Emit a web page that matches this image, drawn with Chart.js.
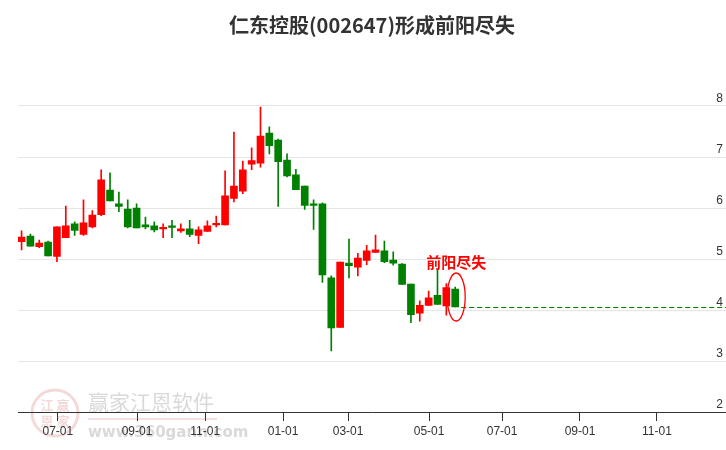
<!DOCTYPE html>
<html>
<head>
<meta charset="utf-8">
<script src="https://cdn.jsdelivr.net/npm/chart.js@4.4.0/dist/chart.umd.min.js"></script>
<style>
html, body { margin: 0; padding: 0; background: #fff; }
#wrap { width: 726px; height: 450px; }
</style>
</head>
<body>
<div id="wrap"><canvas id="chart1" width="726" height="450"></canvas></div>
<script>
// Weekly candles (week start dates)
const weeks = [
    '2023-05-29', '2023-06-05', '2023-06-12', '2023-06-19', '2023-06-26', '2023-07-03', '2023-07-10', '2023-07-17',
    '2023-07-24', '2023-07-31', '2023-08-07', '2023-08-14', '2023-08-21', '2023-08-28', '2023-09-04', '2023-09-11',
    '2023-09-18', '2023-09-25', '2023-10-09', '2023-10-16', '2023-10-23', '2023-10-30', '2023-11-06', '2023-11-13',
    '2023-11-20', '2023-11-27', '2023-12-04', '2023-12-11', '2023-12-18', '2023-12-25', '2024-01-02', '2024-01-08',
    '2024-01-15', '2024-01-22', '2024-01-29', '2024-02-05', '2024-02-19', '2024-02-26', '2024-03-04', '2024-03-11',
    '2024-03-18', '2024-03-25', '2024-04-01', '2024-04-08', '2024-04-15', '2024-04-22', '2024-04-29', '2024-05-06',
    '2024-05-13', '2024-05-20'
];
const openPrices = [
    5.34, 5.45, 5.24, 5.33, 5.05, 5.42, 5.69, 5.48, 5.63, 5.87,
    6.35, 6.08, 5.98, 6.00, 5.67, 5.65, 5.59, 5.64, 5.55, 5.59,
    5.46, 5.54, 5.67, 5.67, 6.19, 6.33, 6.86, 6.88, 7.47, 7.33,
    6.94, 6.65, 6.43, 6.07, 6.08, 4.63, 3.66, 4.92, 4.84, 4.97,
    5.13, 5.16, 4.98, 4.90, 4.51, 3.94, 4.09, 4.29, 4.08, 4.41
];
const highPrices = [
    5.55, 5.49, 5.37, 5.35, 5.63, 6.04, 5.73, 6.16, 5.95, 6.75,
    6.69, 6.31, 6.16, 6.08, 5.82, 5.73, 5.69, 5.76, 5.69, 5.76,
    5.63, 5.75, 5.84, 6.73, 7.49, 6.92, 7.18, 7.98, 7.59, 7.35,
    7.06, 6.76, 6.43, 6.16, 6.10, 4.67, 4.94, 5.39, 5.11, 5.27,
    5.47, 5.35, 5.14, 4.91, 4.51, 4.18, 4.37, 4.80, 4.52, 4.45
];
const lowPrices = [
    5.18, 5.25, 5.22, 5.06, 4.95, 5.42, 5.46, 5.46, 5.61, 5.85,
    6.14, 5.93, 5.61, 5.61, 5.59, 5.53, 5.42, 5.42, 5.52, 5.44,
    5.30, 5.54, 5.63, 5.67, 6.12, 6.28, 6.75, 6.80, 7.06, 6.03,
    6.61, 6.36, 5.97, 5.58, 4.54, 3.20, 3.66, 4.63, 4.67, 4.89,
    5.13, 4.93, 4.88, 4.50, 3.75, 3.78, 4.09, 4.11, 3.90, 4.06
];
const closePrices = [
    5.43, 5.25, 5.31, 5.06, 5.63, 5.65, 5.56, 5.71, 5.86, 6.55,
    6.14, 6.03, 5.63, 5.61, 5.63, 5.57, 5.61, 5.62, 5.59, 5.48,
    5.57, 5.65, 5.69, 6.24, 6.43, 6.75, 6.93, 7.41, 7.22, 6.91,
    6.63, 6.36, 6.05, 6.05, 4.69, 3.65, 4.94, 4.87, 5.02, 5.16,
    5.18, 4.95, 4.92, 4.50, 3.91, 4.09, 4.24, 4.11, 4.44, 4.06
];
// Month ticks, in week-index units
const tickPos = [4.1, 13.05, 20.75, 29.55, 36.9, 46.05, 54.3, 63.1, 71.8];
const tickLabels = ['07-01', '09-01', '11-01', '01-01', '03-01', '05-01', '07-01', '09-01', '11-01'];

const upColor = '#ff0000';
const downColor = '#008000';
const candleColors = closePrices.map((c, i) => c >= openPrices[i] ? upColor : downColor);
const axisFont = { family: '"Liberation Sans", Arial, sans-serif', size: 12 };
const cjkFont = '"Noto Sans CJK SC", sans-serif';

// watermark drawn first, under the axes
const watermarkPlugin = {
    id: 'watermark',
    beforeDraw(chart) {
        const c = chart.ctx;
        c.save();
        c.strokeStyle = 'rgba(220,130,130,0.3)';
        c.lineWidth = 3;
        c.beginPath();
        c.arc(55, 413, 23, 0, Math.PI * 2);
        c.stroke();
        c.fillStyle = 'rgba(220,130,130,0.3)';
        c.font = 'bold 13px ' + cjkFont;
        c.textAlign = 'center';
        c.textBaseline = 'middle';
        c.fillText('江', 47, 405);
        c.fillText('赢', 63, 405);
        c.fillText('恩', 47, 421);
        c.fillText('家', 63, 421);
        c.fillStyle = 'rgba(170,170,170,0.45)';
        c.font = '21px ' + cjkFont;
        c.textAlign = 'left';
        c.textBaseline = 'alphabetic';
        c.fillText('赢家江恩软件', 88, 410);
        c.fillStyle = 'rgba(225,150,150,0.3)';
        c.fillRect(88, 418, 129, 2);
        c.fillStyle = 'rgba(170,170,170,0.45)';
        c.font = 'bold 15px "DejaVu Sans", sans-serif';
        c.fillText('www.360gann.com', 88, 437);
        c.restore();
    }
};

// "前阳尽失" marker on the last candle
const annotatePlugin = {
    id: 'annotate',
    afterDatasetsDraw(chart) {
        const c = chart.ctx;
        const x = chart.scales.x;
        const y = chart.scales.y;
        const last = closePrices.length - 1;
        const px = x.getPixelForValue(last);
        const yHi = y.getPixelForValue(highPrices[last]);
        const yLo = y.getPixelForValue(lowPrices[last]);
        const yClose = y.getPixelForValue(closePrices[last]);
        const cy = (yHi + yLo) / 2;
        c.save();
        c.strokeStyle = downColor;
        c.lineWidth = 1;
        c.setLineDash([5, 3]);
        c.beginPath();
        c.moveTo(px + 6, Math.round(yClose) + 0.5);
        c.lineTo(chart.chartArea.right, Math.round(yClose) + 0.5);
        c.stroke();
        c.setLineDash([]);
        c.strokeStyle = upColor;
        c.lineWidth = 1.3;
        c.beginPath();
        c.ellipse(px + 1, cy, 9, 24, 0, 0, Math.PI * 2);
        c.stroke();
        c.fillStyle = upColor;
        c.font = 'bold 15px ' + cjkFont;
        c.textAlign = 'center';
        c.textBaseline = 'middle';
        c.fillText('前阳尽失', px + 1, cy - 35);
        c.restore();
    }
};

const ctx1 = document.getElementById('chart1');
new Chart(ctx1, {
    type: 'bar',
    data: {
        datasets: [{
            label: 'wick',
            data: weeks.map((w, i) => ({ x: i, y: [lowPrices[i], highPrices[i]] })),
            backgroundColor: candleColors,
            barThickness: 1,
            grouped: false,
            order: 2
        }, {
            label: 'body',
            data: weeks.map((w, i) => ({ x: i, y: [openPrices[i], closePrices[i]] })),
            backgroundColor: candleColors,
            barThickness: 7,
            minBarLength: 1.5,
            grouped: false,
            order: 1
        }]
    },
    options: {
        responsive: false,
        animation: false,
        layout: { padding: { left: 18, right: 0, top: 0, bottom: 8.6 } },
        plugins: {
            legend: { display: false },
            tooltip: { enabled: false },
            title: {
                display: true,
                text: '仁东控股(002647)形成前阳尽失',
                color: '#333',
                font: { family: cjkFont, size: 20, weight: 'bold' },
                padding: { top: 13, bottom: 43.5 }
            }
        },
        scales: {
            x: {
                type: 'linear',
                min: -0.4,
                max: 79.6,
                bounds: 'data',
                offset: false,
                afterBuildTicks: scale => {
                    scale.ticks = tickPos.map(v => ({ value: v }));
                },
                ticks: {
                    callback: (v, i) => tickLabels[i],
                    autoSkip: false,
                    maxRotation: 0,
                    padding: 3,
                    color: '#333',
                    font: axisFont
                },
                grid: { offset: false, drawOnChartArea: false, tickLength: 9, color: '#333' },
                border: { color: '#333' }
            },
            y: {
                position: 'right',
                min: 2,
                max: 8.5,
                bounds: 'data',
                afterFit: scale => {
                    scale.width = 0;
                },
                ticks: {
                    stepSize: 1,
                    includeBounds: false,
                    mirror: true,
                    padding: -3,
                    labelOffset: -7,
                    color: '#333',
                    font: axisFont
                },
                grid: { color: '#e6e6e6', drawTicks: false },
                border: { display: false }
            }
        }
    },
    plugins: [watermarkPlugin, annotatePlugin]
});
</script>
</body>
</html>
